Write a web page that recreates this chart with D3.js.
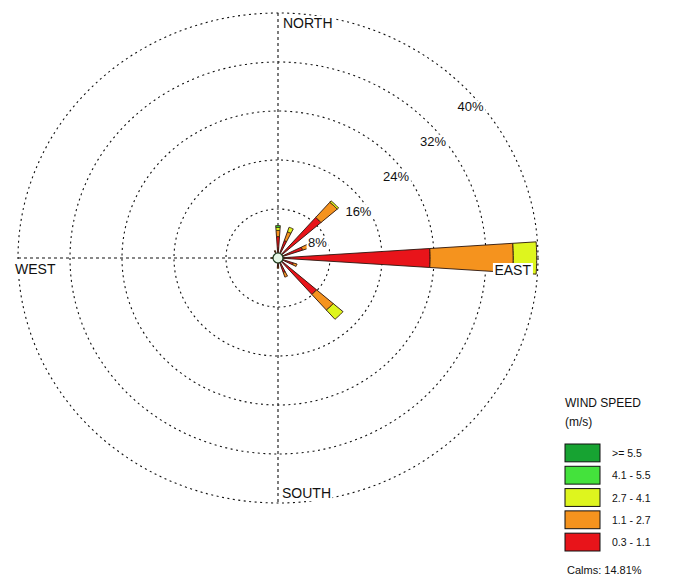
<!DOCTYPE html>
<html>
<head>
<meta charset="utf-8">
<script src="https://cdn.jsdelivr.net/npm/d3@7"></script>
<style>
  html, body { margin: 0; padding: 0; background: #fff; }
  svg text { font-family: "Liberation Sans", Arial, sans-serif; fill: #111; }
</style>
</head>
<body>
<svg id="rose" width="675" height="581"></svg>
<script>
// Wind rose: percent frequency by direction and wind speed class
const directions = ["N","NNE","NE","ENE","E","ESE","SE","SSE","S","SSW","SW","WSW","W","WNW","NW","NNW"];
const speedClasses = ["0.3 - 1.1", "1.1 - 2.7", "2.7 - 4.1", "4.1 - 5.5", ">= 5.5"];
const classColors = ["#e8141a", "#f5931e", "#def51e", "#44e23c", "#17a332"];
// percent per direction for each speed class (same order as speedClasses)
const class03to11 = [3.5, 3.0, 8.8, 4.0, 23.4, 2.5, 7.9, 2.5, 1.4, 0.6, 0.5, 0.4, 0.8, 0.5, 0.6, 1.0];
const class11to27 = [1.0, 1.5, 3.3, 1.0, 12.8, 0.6, 3.4, 0.8, 0.3, 0.0, 0.0, 0.0, 0.2, 0.0, 0.0, 0.3];
const class27to41 = [0.5, 0.8, 0.3, 0.0, 3.6, 0.0, 2.0, 0.0, 0.0, 0.0, 0.0, 0.0, 0.0, 0.0, 0.0, 0.0];
const class41to55 = [0.3, 0.0, 0.0, 0.0, 0.0, 0.0, 0.0, 0.0, 0.0, 0.0, 0.0, 0.0, 0.0, 0.0, 0.0, 0.0];
const class55up   = [0.0, 0.0, 0.0, 0.0, 0.0, 0.0, 0.0, 0.0, 0.0, 0.0, 0.0, 0.0, 0.0, 0.0, 0.0, 0.0];
const ringTicks = [8, 16, 24, 32, 40];
const ringLabels = ["8%", "16%", "24%", "32%", "40%"];
const compassLabels = ["NORTH", "EAST", "SOUTH", "WEST"];
const legendTitle = ["WIND SPEED", "(m/s)"];
const calmsText = "Calms: 14.81%";

const classSeries = [class03to11, class11to27, class27to41, class41to55, class55up];

const svg = d3.select("#rose");
const cx = 278, cy = 258;
const maxPct = 40;
// horizontal and vertical radial scales (the plot is drawn slightly elliptical)
const rx = d3.scaleLinear().domain([0, maxPct]).range([0, 260]);
const ry = d3.scaleLinear().domain([0, maxPct]).range([0, 245]);
const angle = d3.scalePoint().domain(directions).range([0, 360 - 360 / directions.length]);

function pt(pct, deg) {
  const a = deg * Math.PI / 180;
  return [cx + rx(pct) * Math.sin(a), cy - ry(pct) * Math.cos(a)];
}

const grid = svg.append("g");
// rings
grid.selectAll("ellipse.ring").data(ringTicks).join("ellipse")
  .attr("class", "ring")
  .attr("cx", cx).attr("cy", cy)
  .attr("rx", d => rx(d)).attr("ry", d => ry(d))
  .attr("fill", "none").attr("stroke", "#111")
  .attr("stroke-width", 1.1).attr("stroke-dasharray", "2,3.5");
// axes
grid.append("line")
  .attr("x1", cx - rx(maxPct)).attr("x2", cx + rx(maxPct))
  .attr("y1", cy).attr("y2", cy)
  .attr("stroke", "#111").attr("stroke-width", 1.1).attr("stroke-dasharray", "3,3");
grid.append("line")
  .attr("x1", cx).attr("x2", cx)
  .attr("y1", cy - ry(maxPct)).attr("y2", cy + ry(maxPct))
  .attr("stroke", "#111").attr("stroke-width", 1.1).attr("stroke-dasharray", "3,3");

// petals
const halfWidth = 3.8;
const segments = [];
directions.forEach((dir, i) => {
  let cum = 0;
  classSeries.forEach((series, k) => {
    const v = series[i];
    if (v > 0) {
      segments.push({ dir, k, inner: cum, outer: cum + v });
      cum += v;
    }
  });
});
const lineGen = d3.line();
function segPath(s) {
  const a0 = angle(s.dir) - halfWidth, a1 = angle(s.dir) + halfWidth;
  const pts = [];
  const n = 12;
  for (let j = 0; j <= n; j++) pts.push(pt(s.outer, a0 + (a1 - a0) * j / n));
  if (s.inner === 0) pts.push([cx, cy]);
  else for (let j = n; j >= 0; j--) pts.push(pt(s.inner, a0 + (a1 - a0) * j / n));
  return lineGen(pts) + "Z";
}
svg.append("g").selectAll("path").data(segments).join("path")
  .attr("d", segPath)
  .attr("fill", d => classColors[d.k])
  .attr("stroke", "#2a140c").attr("stroke-width", 0.9)
  .attr("stroke-linejoin", "miter");

// calm circle
svg.append("circle").attr("cx", cx).attr("cy", cy).attr("r", 5)
  .attr("fill", "#e6f6e6").attr("stroke", "#1c3a1c").attr("stroke-width", 1.2);

// label with white backing box
function boxedText(g, x, y, txt, anchor, size) {
  const t = g.append("text").attr("x", x).attr("y", y)
    .attr("text-anchor", anchor).attr("font-size", size).text(txt);
  const b = t.node().getBBox();
  g.insert("rect", "text")
    .attr("x", b.x - 1.5).attr("y", b.y + 1).attr("width", b.width + 3).attr("height", b.height - 1)
    .attr("fill", "#fff");
  return t;
}

// ring labels, set just inside each ring; the line bends toward 40 deg above east
const ringLabelG = svg.append("g");
ringTicks.forEach((v, i) => {
  const g = ringLabelG.append("g");
  const elev = 41 - 18 * Math.exp(-0.7 * i);
  const p = pt(v - 1.4, 90 - elev);
  boxedText(g, p[0], p[1] + 5, ringLabels[i], "middle", 13);
});

// compass labels
const compG = svg.append("g");
boxedText(compG.append("g"), cx + 5, cy - ry(maxPct) + 15, compassLabels[0], "start", 14);
boxedText(compG.append("g"), cx + rx(maxPct) - 7, cy + 17, compassLabels[1], "end", 14);
boxedText(compG.append("g"), cx + 4, cy + ry(maxPct) - 5, compassLabels[2], "start", 14);
boxedText(compG.append("g"), cx - rx(maxPct) - 3, cy + 16, compassLabels[3], "start", 14);

// legend
const lg = svg.append("g").attr("transform", "translate(565,0)");
lg.selectAll("text.title").data(legendTitle).join("text")
  .attr("class", "title")
  .attr("x", 0).attr("y", (d, i) => 407 + i * 19)
  .attr("font-size", 12).text(d => d);
const order = d3.range(speedClasses.length).reverse();
const rowY = d3.scaleBand().domain(order).range([444, 551]).paddingInner(0.2);
lg.selectAll("rect.sw").data(order).join("rect")
  .attr("class", "sw")
  .attr("x", 0).attr("y", d => rowY(d))
  .attr("width", 35).attr("height", rowY.bandwidth())
  .attr("fill", d => classColors[d]).attr("stroke", "#111").attr("stroke-width", 1);
lg.selectAll("text.lab").data(order).join("text")
  .attr("class", "lab")
  .attr("x", 47).attr("y", d => rowY(d) + rowY.bandwidth() / 2 + 4)
  .attr("font-size", 10.5).text(d => speedClasses[d]);
lg.append("text").attr("x", 2).attr("y", 574).attr("font-size", 11).text(calmsText);
</script>
</body>
</html>
